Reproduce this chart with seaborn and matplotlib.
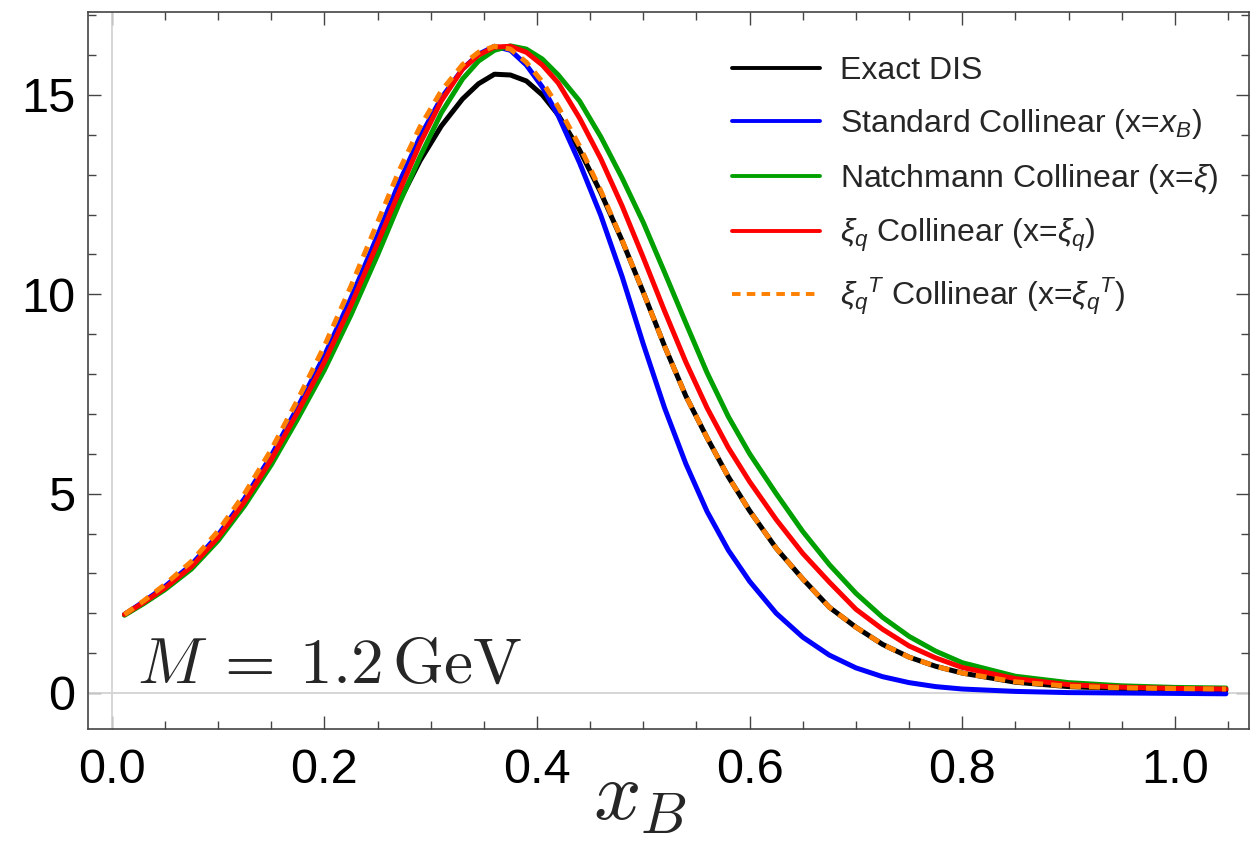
import numpy as np
import pandas as pd
import seaborn as sns
import matplotlib
matplotlib.use("Agg")
import matplotlib.pyplot as plt
from matplotlib.ticker import MultipleLocator

# ---------------- data ----------------
x_grid = [0.012, 0.03, 0.05, 0.075, 0.1, 0.125, 0.15, 0.175, 0.2, 0.225, 0.25, 0.27, 0.29, 0.31,
          0.33, 0.345, 0.36, 0.375, 0.39, 0.405, 0.42, 0.44, 0.46, 0.48, 0.5, 0.52, 0.54, 0.56,
          0.58, 0.6, 0.625, 0.65, 0.675, 0.7, 0.725, 0.75, 0.775, 0.8, 0.85, 0.9, 0.95, 1.0, 1.048]

y_exact = [1.97, 2.26, 2.62, 3.15, 3.87, 4.76, 5.8, 6.98, 8.22, 9.6, 11.1, 12.3, 13.35, 14.22,
           14.9, 15.28, 15.52, 15.5, 15.35, 15.0, 14.5, 13.62, 12.55, 11.35, 10.05, 8.7, 7.45, 6.4,
           5.42, 4.57, 3.63, 2.86, 2.15, 1.65, 1.22, 0.9, 0.67, 0.5, 0.27, 0.16, 0.11, 0.085, 0.07]

y_std = [1.97, 2.29, 2.67, 3.22, 3.96, 4.88, 5.95, 7.17, 8.46, 9.9, 11.47, 12.78, 13.95, 14.92,
         15.65, 16.02, 16.22, 16.12, 15.75, 15.2, 14.48, 13.3, 11.98, 10.45, 8.75, 7.15, 5.75, 4.55,
         3.58, 2.8, 2.0, 1.4, 0.95, 0.63, 0.41, 0.26, 0.16, 0.1, 0.04, 0.01, 0.0, -0.01, -0.02]

y_nat = [1.95, 2.24, 2.59, 3.11, 3.82, 4.7, 5.72, 6.88, 8.1, 9.48, 10.98, 12.25, 13.45, 14.55,
         15.4, 15.85, 16.12, 16.23, 16.15, 15.9, 15.5, 14.85, 13.95, 12.92, 11.8, 10.55, 9.28, 8.03,
         6.93, 6.0, 5.0, 4.05, 3.22, 2.5, 1.9, 1.42, 1.05, 0.76, 0.42, 0.26, 0.18, 0.14, 0.125]

y_xiq = [1.97, 2.27, 2.63, 3.17, 3.9, 4.8, 5.85, 7.05, 8.3, 9.72, 11.28, 12.55, 13.78, 14.85,
         15.65, 16.0, 16.2, 16.22, 16.07, 15.75, 15.3, 14.42, 13.4, 12.22, 10.92, 9.58, 8.3, 7.15,
         6.15, 5.3, 4.35, 3.5, 2.78, 2.1, 1.6, 1.18, 0.88, 0.64, 0.36, 0.21, 0.145, 0.115, 0.1]

y_xiqT = [1.97, 2.31, 2.72, 3.3, 4.06, 5.0, 6.1, 7.36, 8.7, 10.2, 11.8, 13.08, 14.2, 15.1,
          15.76, 16.07, 16.22, 16.15, 15.82, 15.33, 14.7, 13.72, 12.6, 11.36, 10.05, 8.7, 7.45, 6.4,
          5.42, 4.57, 3.63, 2.86, 2.15, 1.65, 1.22, 0.9, 0.67, 0.5, 0.28, 0.17, 0.13, 0.11, 0.1]

labels = ["Exact DIS",
          "Standard Collinear (x=$x_B$)",
          "Natchmann Collinear (x=$\\xi$)",
          "$\\xi_q$ Collinear (x=$\\xi_q$)",
          "${\\xi_q}^T$ Collinear (x=${\\xi_q}^T$)"]
colors = ["#000000", "#0000FF", "#00A000", "#FF0000", "#FF8000"]
x_ticks = [0.0, 0.2, 0.4, 0.6, 0.8, 1.0]
x_ticklabels = ["0.0", "0.2", "0.4", "0.6", "0.8", "1.0"]
y_ticks = [0, 5, 10, 15]
y_ticklabels = ["0", "5", "10", "15"]

# ---------------- style ----------------
sns.set_style("ticks")
plt.rcParams["font.family"] = ["Liberation Sans", "DejaVu Sans"]
plt.rcParams["mathtext.fontset"] = "custom"
plt.rcParams["mathtext.rm"] = "Liberation Sans"
plt.rcParams["mathtext.it"] = "Liberation Sans:italic"
plt.rcParams["mathtext.bf"] = "Liberation Sans:bold"
plt.rcParams["mathtext.sf"] = "Liberation Sans"

W, H = 1257, 851
fig = plt.figure(figsize=(W / 100, H / 100), dpi=100)
L, R, T, B = 88, 1249, 12, 729
ax = fig.add_axes([L / W, 1 - B / H, (R - L) / W, (B - T) / H])

series = [y_exact, y_std, y_nat, y_xiq, y_xiqT]
for i, (ys, lab, col) in enumerate(zip(series, labels, colors)):
    df = pd.DataFrame({"x": x_grid, "y": ys})
    sns.lineplot(data=df, x="x", y="y", ax=ax, color=col, lw=3.6, label=lab,
                 estimator=None, sort=False, zorder=3 + i)
    ln = ax.lines[-1]
    ln.set_solid_joinstyle("round")
    if i == 4:
        ln.set_dashes([2.2, 1.6])
        ln.set_dash_capstyle("butt")

# light axes lines at x=0, y=0 (Mathematica style)
ax.axhline(0, color="#d3d3d3", lw=1.3, zorder=1)
ax.axvline(0, color="#d3d3d3", lw=1.3, zorder=1)

ax.set_xlim(-0.0223, 1.0697)
ax.set_ylim(-0.903, 17.08)
ax.set_xticks(x_ticks)
ax.set_xticklabels(x_ticklabels)
ax.set_yticks(y_ticks)
ax.set_yticklabels(y_ticklabels)
ax.xaxis.set_minor_locator(MultipleLocator(0.05))
ax.yaxis.set_minor_locator(MultipleLocator(1))
ax.tick_params(which="both", direction="in", top=True, right=True, color="#444444", width=1.0)
ax.tick_params(which="major", length=9.5, labelsize=35, labelcolor="black")
ax.tick_params(which="minor", length=5.8)
ax.tick_params(axis="x", which="major", pad=14)
ax.tick_params(axis="y", which="major", pad=9)
for s in ax.spines.values():
    s.set_color("#444444")
    s.set_linewidth(1.2)

ax.set_ylabel("")
ax.set_xlabel("$x_B$", fontsize=60, math_fontfamily="cm")
ax.xaxis.set_label_coords((640 - L) / (R - L), -0.041)

ax.text(0.024, 0.25, "$M\\:=\\:1.2\\,\\mathrm{GeV}$", fontsize=47, math_fontfamily="cm",
        va="baseline", ha="left", zorder=10)

leg = ax.legend(loc="upper left", bbox_to_anchor=((732 - L) / (R - L), (B - 56) / (B - T)),
                frameon=False, fontsize=23, handlelength=2.75, handletextpad=0.62,
                labelspacing=0.66, borderpad=0, borderaxespad=0)
for h in leg.legend_handles:
    h.set_linewidth(2.8)

fig.savefig("out.png", dpi=100)
